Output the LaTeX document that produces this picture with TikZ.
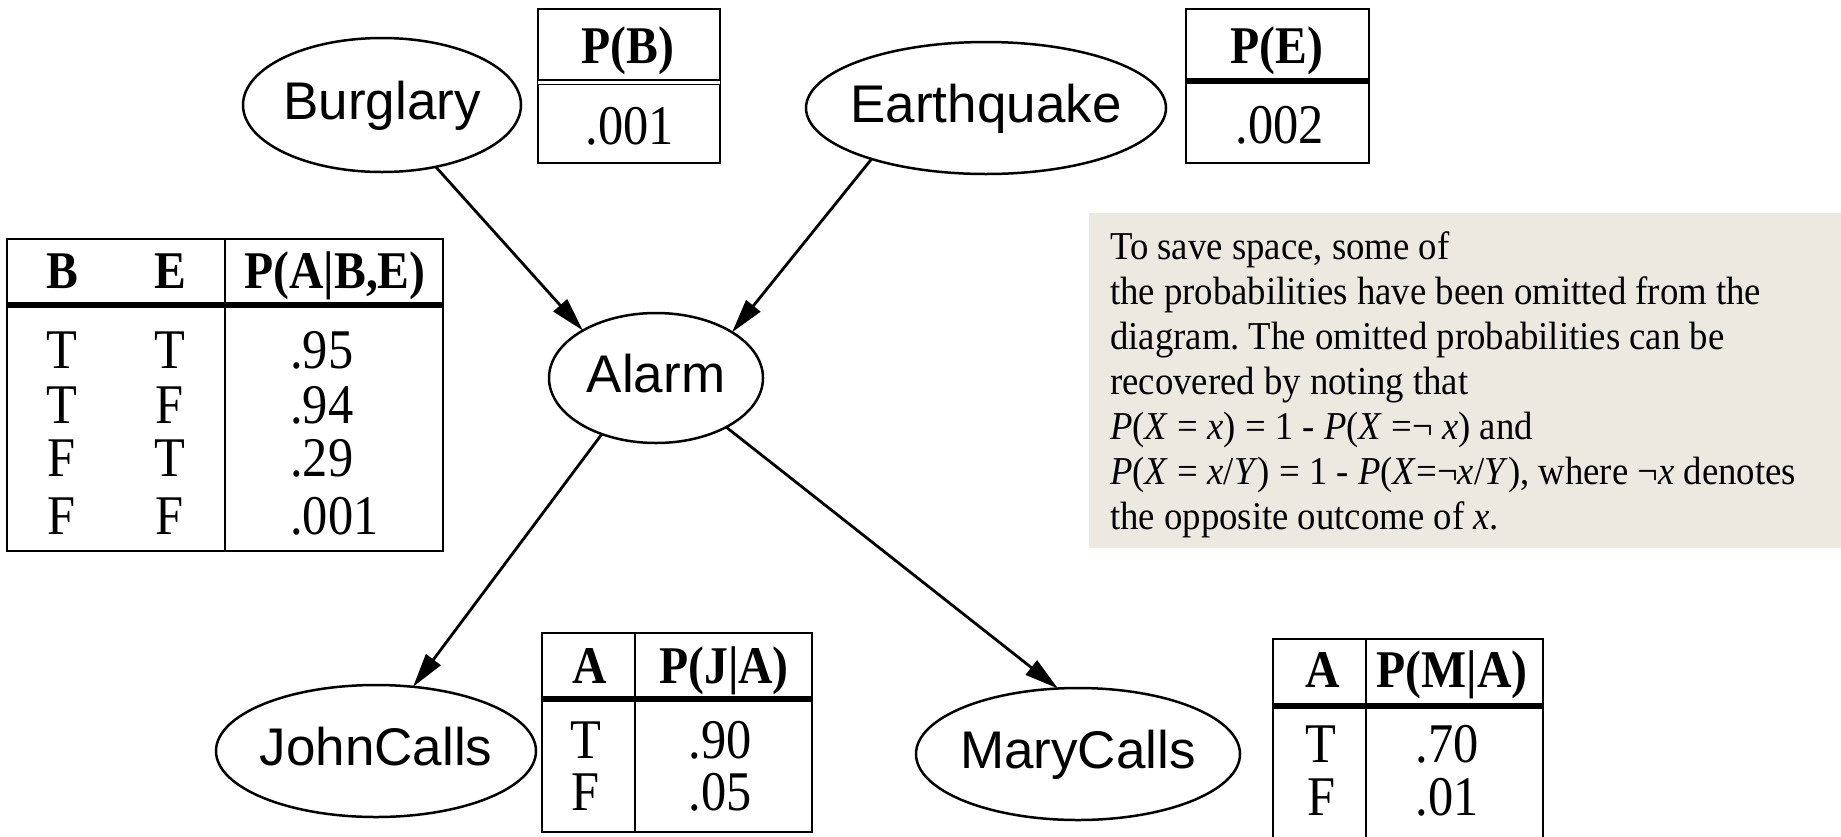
\documentclass[tikz,border=0pt]{standalone}
\usepackage{fontspec}
\setmainfont{Liberation Serif}
\setsansfont{Liberation Sans}
\newfontfamily\tabfont[FakeStretch=0.9]{Liberation Serif}
\newfontfamily\notefont[FakeStretch=0.93]{Liberation Serif}
\usetikzlibrary{shapes.geometric,arrows.meta}
\definecolor{notebg}{RGB}{236,233,224}
\frenchspacing
\begin{document}
\begin{tikzpicture}[x=1pt,y=-1pt]
\tikzset{
  bnode/.style={ellipse, draw, line width=2.5pt, inner sep=0pt, outer sep=0pt},
  blabel/.style={font=\sffamily\fontsize{53}{60}\selectfont, text height=38pt, text depth=0pt, inner sep=0pt, yshift=5pt},
  arr/.style={line width=2.8pt, -{Triangle[length=34pt,width=18pt]}},
  tabline/.style={line width=2.8pt},
  thickdiv/.style={line width=6pt},
  hdr/.style={font=\tabfont\bfseries\fontsize{53}{55}\selectfont, inner sep=0pt, anchor=base},
  cell/.style={font=\tabfont\fontsize{56}{58}\selectfont, inner sep=0pt, anchor=base},
  lcell/.style={cell, anchor=base west},
  note/.style={font=\notefont\fontsize{39.5}{45}\selectfont, inner sep=0pt, anchor=base west},
}
\useasboundingbox (0,0) rectangle (1841,836);
\clip (0,0) rectangle (1841,836);

% note box
\fill[notebg] (1089,213) rectangle (1841,548);
\node[note] (n1) at (1110,259) {To save space, some of};
\node[note] (n2) at (1110,304) {the probabilities have been omitted from the};
\node[note] (n3) at (1110,349) {diagram. The omitted probabilities can be};
\node[note] (n4) at (1110,394) {recovered by noting that};
\node[note] (n5) at (1110,439) {\textit{P}(\textit{X} = \textit{x}) = 1 - \textit{P}(\textit{X} =¬ \textit{x}) and};
\node[note] (n6) at (1110,484) {\textit{P}(\textit{X} = \textit{x}/\textit{Y}) = 1 - \textit{P}(\textit{X}=¬\textit{x}/\textit{Y}), where ¬\textit{x} denotes};
\node[note] (n7) at (1110,529) {the opposite outcome of \textit{x}.};

% network nodes
\node[bnode, minimum width=278pt, minimum height=134pt, label={[blabel]center:Burglary}] (B) at (382,105) {};
\node[bnode, minimum width=360pt, minimum height=132pt, label={[blabel]center:Earthquake}] (E) at (986,108) {};
\node[bnode, minimum width=214pt, minimum height=130pt, label={[blabel]center:Alarm}] (A) at (656,378) {};
\node[bnode, minimum width=320pt, minimum height=132pt, label={[blabel]center:JohnCalls}] (J) at (376,751) {};
\node[bnode, minimum width=324pt, minimum height=132pt, label={[blabel]center:MaryCalls}] (M) at (1078,754) {};

\draw[arr] (B.311) -- (A.147.6);
\draw[arr] (E.204.6) -- (A.31);
\draw[arr] (A.226.4) -- (J.60);
\draw[arr] (A.325.8) -- (M.107);

% P(B)
\draw[tabline] (538,9) rectangle (720,163);
\draw[double, double distance=3pt, line width=1.6pt] (538,82) -- (720,82);
\node[hdr] (pbh) at (628,63) {P(B)};
\node[cell] (pbv) at (630,144) {.001};

% P(E)
\draw[tabline] (1186,9) rectangle (1369,163);
\draw[thickdiv] (1186,81) -- (1369,81);
\node[hdr] (peh) at (1277,63) {P(E)};
\node[cell] (pev) at (1280,143) {.002};

% P(A|B,E)
\draw[tabline] (7,239) rectangle (443,551);
\draw[tabline] (225,239) -- (225,551);
\draw[thickdiv] (7,305) -- (443,305);
\node[hdr] (ah1) at (62,288) {B};
\node[hdr] (ah2) at (170,288) {E};
\node[hdr] (ah3) at (335,288) {P(A|B,E)};
\node[cell] (a11) at (62,368) {T};
\node[cell] (a12) at (170,368) {T};
\node[lcell] (a13) at (290,368) {.95};
\node[cell] (a21) at (62,423) {T};
\node[cell] (a22) at (170,423) {F};
\node[lcell] (a23) at (290,423) {.94};
\node[cell] (a31) at (62,476) {F};
\node[cell] (a32) at (170,476) {T};
\node[lcell] (a33) at (290,476) {.29};
\node[cell] (a41) at (62,534) {F};
\node[cell] (a42) at (170,534) {F};
\node[lcell] (a43) at (290,534) {.001};

% P(J|A)
\draw[tabline] (542,633) rectangle (812,832);
\draw[tabline] (635,633) -- (635,832);
\draw[thickdiv] (542,699) -- (812,699);
\node[hdr] (jh1) at (590,683) {A};
\node[hdr] (jh2) at (724,683) {P(J|A)};
\node[cell] (j11) at (586,758) {T};
\node[cell] (j12) at (720,758) {.90};
\node[cell] (j21) at (586,810) {F};
\node[cell] (j22) at (720,810) {.05};

% P(M|A)
\draw[tabline] (1273,639) rectangle (1543,860);
\draw[tabline] (1366,639) -- (1366,860);
\draw[thickdiv] (1273,706) -- (1543,706);
\node[hdr] (mh1) at (1323,687) {A};
\node[hdr] (mh2) at (1452,687) {P(M|A)};
\node[cell] (m11) at (1321,762) {T};
\node[cell] (m12) at (1447,762) {.70};
\node[cell] (m21) at (1321,815) {F};
\node[cell] (m22) at (1447,815) {.01};
\end{tikzpicture}
\end{document}
